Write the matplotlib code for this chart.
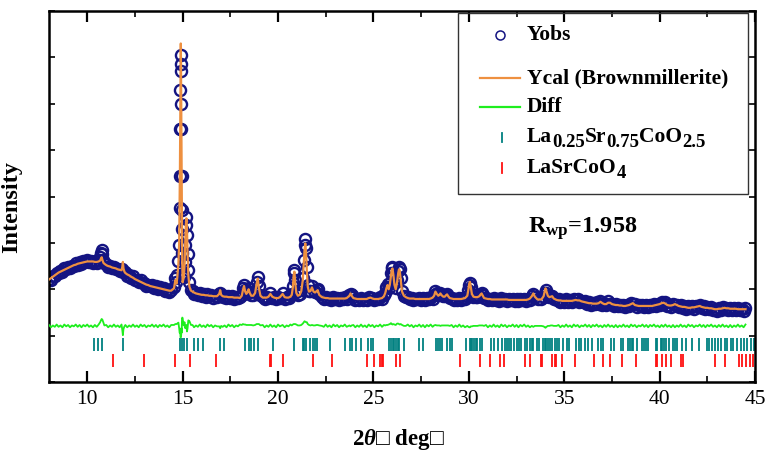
import numpy as np
import matplotlib
matplotlib.use("Agg")
import matplotlib.pyplot as plt
from matplotlib.patches import Rectangle
from matplotlib.ticker import MultipleLocator
from matplotlib.transforms import offset_copy

plt.rcParams['font.family'] = ['Liberation Serif', 'DejaVu Sans']
plt.rcParams['mathtext.fontset'] = 'custom'
plt.rcParams['mathtext.rm'] = 'Liberation Serif:bold'
plt.rcParams['mathtext.bf'] = 'Liberation Serif:bold'
plt.rcParams['mathtext.it'] = 'Liberation Serif:italic:bold'

# 2theta (deg), observed and calculated intensity (arb. units)
two_theta = [
    8.0, 8.1, 8.2, 8.3, 8.4, 8.5, 8.6, 8.7, 8.8, 8.9, 9.0, 9.1, 9.2, 9.3, 9.4, 9.5,
    9.6, 9.7, 9.8, 9.9, 10.0, 10.1, 10.2, 10.3, 10.4, 10.5, 10.6,
    10.68, 10.72, 10.76, 10.80, 10.85, 10.90,
    11.0, 11.1, 11.2, 11.3, 11.4, 11.5, 11.6, 11.7, 11.8,
    11.84, 11.87, 11.90, 11.95,
    12.0, 12.1, 12.2, 12.3, 12.4, 12.5, 12.6, 12.7, 12.8, 12.9, 13.0, 13.1, 13.2,
    13.3, 13.4, 13.5, 13.6, 13.7, 13.8, 13.9, 14.0, 14.1, 14.2, 14.3, 14.4,
    14.55, 14.62, 14.68,
    14.72, 14.78, 14.82, 14.845, 14.86, 14.875, 14.885, 14.895, 14.905, 14.915,
    14.925, 14.935, 14.945, 14.955, 14.965, 14.98, 15.0, 15.03,
    15.06, 15.1, 15.14, 15.17, 15.2, 15.23, 15.26, 15.3, 15.36, 15.44,
    15.52, 15.6, 15.7, 15.8, 15.9, 16.0, 16.1, 16.2, 16.3, 16.4, 16.5, 16.6, 16.7, 16.8,
    16.92, 16.97, 17.02,
    17.1, 17.2, 17.3, 17.4, 17.5, 17.6, 17.7, 17.8, 17.9, 18.0,
    18.1, 18.16, 18.22, 18.28, 18.34, 18.4, 18.46, 18.52, 18.6, 18.7, 18.8, 18.88,
    18.94, 19.0, 19.08,
    19.2, 19.3, 19.4, 19.5, 19.6, 19.7, 19.8, 19.9, 20.0, 20.1, 20.24, 20.35, 20.45,
    20.55, 20.65,
    20.72, 20.78, 20.82, 20.86, 20.9, 20.96, 21.04,
    21.14, 21.22, 21.3, 21.35, 21.39, 21.43, 21.47, 21.51, 21.56, 21.62,
    21.7, 21.78, 21.86, 21.94, 22.02, 22.08, 22.16, 22.3,
    22.4, 22.5, 22.6, 22.7, 22.8, 22.9, 23.0, 23.1, 23.2, 23.3, 23.4, 23.5, 23.6,
    23.74, 23.8, 23.86,
    23.95, 24.05, 24.15, 24.25, 24.35, 24.45, 24.55, 24.65, 24.75, 24.85, 24.95,
    25.05, 25.15, 25.25, 25.35, 25.45, 25.55,
    25.62, 25.68, 25.74, 25.8, 25.86, 25.92, 25.96, 26.0, 26.05, 26.1, 26.17, 26.24,
    26.3, 26.34, 26.38, 26.43, 26.5, 26.6, 26.7,
    26.8, 26.9, 27.0, 27.1, 27.2, 27.3, 27.4, 27.5, 27.6, 27.7, 27.8, 27.9, 28.0, 28.1,
    28.18, 28.25, 28.32, 28.4, 28.46, 28.51, 28.58, 28.66, 28.74, 28.8, 28.86, 28.92, 29.0,
    29.1, 29.2, 29.3, 29.4, 29.5, 29.6, 29.7, 29.8,
    29.92, 29.98, 30.02, 30.06, 30.1, 30.16, 30.24, 30.35, 30.45, 30.55, 30.62, 30.67,
    30.72, 30.8,
    30.9, 31.0, 31.1, 31.2, 31.3, 31.4, 31.5, 31.6, 31.7, 31.8, 31.9, 32.0, 32.1, 32.2,
    32.3, 32.4, 32.5, 32.6, 32.7, 32.8, 32.9, 33.0, 33.1, 33.2,
    33.3, 33.38, 33.46, 33.6,
    33.8, 33.92, 33.98, 34.02, 34.07, 34.14, 34.22, 34.3, 34.37, 34.45, 34.6,
    34.7, 34.8, 34.9,
    35.0, 35.1, 35.2, 35.3, 35.4, 35.5, 35.6, 35.7, 35.8, 35.9,
    36.0, 36.1, 36.2, 36.3, 36.4, 36.5, 36.6, 36.7, 36.8, 36.9,
    37.0, 37.1, 37.2, 37.3, 37.4, 37.5, 37.6, 37.7, 37.8, 37.9,
    38.0, 38.1, 38.2, 38.3, 38.4, 38.5, 38.6, 38.7, 38.8, 38.9,
    39.0, 39.1, 39.2, 39.3, 39.4, 39.5, 39.6, 39.7, 39.8, 39.9,
    40.0, 40.1, 40.2, 40.3, 40.4, 40.5, 40.6, 40.7, 40.8, 40.9,
    41.0, 41.1, 41.2, 41.3, 41.4, 41.5, 41.6, 41.7, 41.8, 41.9,
    42.0, 42.1, 42.2, 42.3, 42.4, 42.5, 42.6, 42.7, 42.8, 42.9,
    43.0, 43.1, 43.2, 43.3, 43.4, 43.5, 43.6, 43.7, 43.8, 43.9,
    44.0, 44.1, 44.2, 44.3, 44.4, 44.5,
]

y_obs = [
    2.23, 2.21, 2.28, 2.28, 2.36, 2.34, 2.39, 2.37, 2.45, 2.43, 2.48, 2.45, 2.51, 2.51, 2.56, 2.53,
    2.58, 2.54, 2.60, 2.58, 2.63, 2.58, 2.61, 2.57, 2.61, 2.57, 2.63,
    2.70, 2.78, 2.84, 2.76, 2.64, 2.56,
    2.54, 2.47, 2.50, 2.45, 2.49, 2.43, 2.44, 2.39, 2.44,
    2.39, 2.39, 2.38, 2.37,
    2.37, 2.29, 2.31, 2.25, 2.28, 2.20, 2.21, 2.15, 2.19, 2.13, 2.14, 2.07, 2.10,
    2.06, 2.09, 2.03, 2.06, 2.00, 2.04, 2.00, 2.03, 1.97, 1.99, 1.94, 1.99,
    2.04, 2.24, 2.16,
    2.30, 2.62, 2.95, 3.75, 4.45, 5.45, 6.30, 6.85, 7.05, 6.70,
    6.00, 5.45, 4.45, 3.70, 3.30, 2.78, 2.32, 2.28,
    2.26, 2.58, 2.95, 3.38, 3.55, 3.18, 2.75, 2.42, 2.15, 1.99,
    1.97, 1.90, 1.92, 1.88, 1.92, 1.86, 1.89, 1.84, 1.90, 1.85, 1.88, 1.82, 1.86, 1.84,
    1.89, 1.93, 1.88,
    1.83, 1.85, 1.81, 1.86, 1.82, 1.85, 1.79, 1.83, 1.81, 1.84,
    1.88, 2.02, 2.10, 1.98, 1.92, 1.96, 2.02, 1.94, 1.88, 1.87, 1.94, 2.16,
    2.27, 2.06, 1.87,
    1.84, 1.79, 1.83, 1.82, 1.93, 1.82, 1.83, 1.78, 1.84, 1.82, 1.92, 1.80, 1.83,
    1.81, 1.87,
    1.89, 2.08, 2.34, 2.42, 2.19, 1.95, 1.87,
    1.89, 1.98, 2.25, 2.63, 2.95, 3.08, 2.88, 2.48, 2.09, 1.97,
    1.97, 2.06, 1.96, 1.94, 1.98, 2.00, 1.89, 1.83,
    1.80, 1.84, 1.79, 1.81, 1.77, 1.83, 1.79, 1.82, 1.77, 1.81, 1.79, 1.83, 1.79,
    1.87, 1.90, 1.87,
    1.83, 1.77, 1.80, 1.77, 1.82, 1.77, 1.80, 1.76, 1.84, 1.81, 1.82,
    1.76, 1.80, 1.78, 1.83, 1.79, 1.87,
    1.93, 2.04, 2.11, 2.03, 2.14, 2.36, 2.46, 2.48, 2.34, 2.13, 2.02, 2.20,
    2.40, 2.47, 2.43, 2.24, 1.97, 1.86, 1.83,
    1.84, 1.79, 1.82, 1.77, 1.80, 1.78, 1.82, 1.77, 1.81, 1.76, 1.81, 1.78, 1.83, 1.80,
    1.87, 1.97, 1.91, 1.87, 1.89, 1.91, 1.88, 1.85, 1.85, 1.88, 1.90, 1.86, 1.81,
    1.82, 1.76, 1.80, 1.77, 1.82, 1.77, 1.81, 1.78,
    1.86, 1.98, 2.09, 2.13, 2.04, 1.89, 1.84, 1.83, 1.83, 1.86, 1.90, 1.92,
    1.88, 1.81,
    1.82, 1.76, 1.80, 1.76, 1.81, 1.76, 1.79, 1.75, 1.81, 1.77, 1.80, 1.75, 1.78, 1.76,
    1.80, 1.75, 1.79, 1.74, 1.79, 1.76, 1.80, 1.75, 1.79, 1.77,
    1.85, 1.89, 1.84, 1.78,
    1.78, 1.84, 1.93, 1.98, 1.93, 1.86, 1.83, 1.85, 1.86, 1.80, 1.77,
    1.78, 1.73, 1.76,
    1.73, 1.78, 1.73, 1.76, 1.72, 1.79, 1.76, 1.78, 1.73, 1.75,
    1.72, 1.75, 1.69, 1.72, 1.67, 1.71, 1.68, 1.72, 1.68, 1.74,
    1.67, 1.70, 1.66, 1.74, 1.69, 1.69, 1.64, 1.68, 1.63, 1.66,
    1.63, 1.67, 1.62, 1.66, 1.63, 1.71, 1.69, 1.68, 1.62, 1.65,
    1.63, 1.67, 1.62, 1.66, 1.61, 1.66, 1.63, 1.68, 1.64, 1.68,
    1.65, 1.72, 1.69, 1.72, 1.64, 1.66, 1.62, 1.68, 1.65, 1.67,
    1.62, 1.66, 1.60, 1.63, 1.58, 1.63, 1.59, 1.63, 1.58, 1.63,
    1.62, 1.67, 1.60, 1.63, 1.57, 1.62, 1.58, 1.62, 1.56, 1.58,
    1.54, 1.60, 1.56, 1.62, 1.58, 1.60, 1.56, 1.60, 1.55, 1.59,
    1.56, 1.60, 1.55, 1.58, 1.54, 1.60,
]

y_calc = [
    2.21, 2.24, 2.27, 2.30, 2.33, 2.36, 2.38, 2.40, 2.42, 2.44, 2.46, 2.48, 2.50, 2.52, 2.53, 2.55,
    2.56, 2.57, 2.58, 2.59, 2.60, 2.60, 2.60, 2.60, 2.59, 2.59, 2.60,
    2.62, 2.66, 2.69, 2.63, 2.57, 2.55,
    2.52, 2.50, 2.49, 2.47, 2.46, 2.45, 2.43, 2.42, 2.41,
    2.48, 2.59, 2.45, 2.38,
    2.35, 2.32, 2.30, 2.27, 2.25, 2.22, 2.20, 2.18, 2.16, 2.14, 2.12, 2.10, 2.09,
    2.07, 2.06, 2.05, 2.04, 2.03, 2.02, 2.01, 2.00, 1.99, 1.98, 1.97, 1.97,
    2.02, 2.20, 2.12,
    2.25, 2.55, 3.00, 3.90, 4.60, 5.60, 6.50, 7.10, 7.30, 6.90,
    6.20, 5.50, 4.60, 3.80, 3.20, 2.60, 2.15, 2.20,
    2.25, 2.50, 3.00, 3.40, 3.53, 3.30, 2.80, 2.30, 2.05, 1.97,
    1.95, 1.93, 1.91, 1.90, 1.89, 1.88, 1.88, 1.87, 1.87, 1.86, 1.86, 1.85, 1.85, 1.85,
    1.90, 1.98, 1.88,
    1.85, 1.84, 1.84, 1.83, 1.83, 1.83, 1.82, 1.82, 1.82, 1.81,
    1.86, 1.98, 2.07, 1.95, 1.90, 1.94, 2.00, 1.92, 1.86, 1.86, 1.92, 2.12,
    2.23, 2.02, 1.86,
    1.82, 1.82, 1.82, 1.84, 1.90, 1.84, 1.82, 1.81, 1.81, 1.83, 1.90, 1.83, 1.82,
    1.82, 1.84,
    1.88, 2.05, 2.30, 2.38, 2.15, 1.92, 1.86,
    1.88, 1.96, 2.20, 2.55, 2.85, 2.99, 2.80, 2.40, 2.05, 1.95,
    1.96, 2.04, 1.95, 1.93, 1.96, 1.98, 1.88, 1.83,
    1.82, 1.81, 1.81, 1.80, 1.80, 1.80, 1.80, 1.80, 1.80, 1.80, 1.80, 1.80, 1.81,
    1.86, 1.91, 1.86,
    1.81, 1.80, 1.79, 1.79, 1.79, 1.79, 1.79, 1.79, 1.81, 1.82, 1.80,
    1.79, 1.79, 1.79, 1.80, 1.81, 1.85,
    1.92, 2.02, 2.09, 2.00, 2.10, 2.30, 2.42, 2.45, 2.30, 2.10, 2.00, 2.15,
    2.35, 2.43, 2.40, 2.20, 1.95, 1.86, 1.83,
    1.81, 1.80, 1.80, 1.80, 1.79, 1.79, 1.79, 1.79, 1.79, 1.79, 1.79, 1.79, 1.80, 1.82,
    1.86, 1.95, 1.90, 1.86, 1.88, 1.91, 1.87, 1.84, 1.84, 1.87, 1.89, 1.85, 1.81,
    1.80, 1.79, 1.79, 1.79, 1.79, 1.79, 1.80, 1.81,
    1.86, 2.00, 2.12, 2.16, 2.05, 1.90, 1.84, 1.83, 1.83, 1.85, 1.89, 1.91,
    1.87, 1.81,
    1.80, 1.79, 1.79, 1.78, 1.78, 1.78, 1.78, 1.78, 1.78, 1.78, 1.78, 1.78, 1.77, 1.77,
    1.77, 1.77, 1.77, 1.77, 1.77, 1.77, 1.77, 1.77, 1.78, 1.80,
    1.85, 1.91, 1.84, 1.78,
    1.78, 1.85, 1.96, 2.02, 1.95, 1.86, 1.83, 1.84, 1.85, 1.80, 1.77,
    1.76, 1.76, 1.75,
    1.75, 1.75, 1.75, 1.75, 1.75, 1.76, 1.77, 1.76, 1.76, 1.74,
    1.73, 1.72, 1.71, 1.70, 1.70, 1.69, 1.69, 1.69, 1.70, 1.73,
    1.70, 1.68, 1.68, 1.71, 1.71, 1.68, 1.67, 1.66, 1.66, 1.65,
    1.65, 1.64, 1.64, 1.65, 1.66, 1.68, 1.70, 1.66, 1.65, 1.64,
    1.64, 1.64, 1.64, 1.64, 1.64, 1.64, 1.64, 1.65, 1.66, 1.67,
    1.68, 1.70, 1.71, 1.69, 1.66, 1.65, 1.65, 1.66, 1.68, 1.66,
    1.64, 1.63, 1.62, 1.62, 1.61, 1.60, 1.60, 1.61, 1.61, 1.62,
    1.63, 1.64, 1.62, 1.61, 1.60, 1.60, 1.59, 1.59, 1.58, 1.57,
    1.57, 1.58, 1.58, 1.59, 1.60, 1.59, 1.59, 1.58, 1.58, 1.58,
    1.58, 1.57, 1.57, 1.57, 1.57, 1.57,
]

diff_offset = 1.21

# Bragg reflection positions (deg)
brownmillerite_hkl = [
    10.38, 10.55, 10.76, 11.87, 14.87, 14.96, 15.05, 15.22, 15.6, 15.83, 16.06,
    16.97, 17.18, 18.25, 18.46, 18.58, 18.72, 18.95, 19.74, 20.85, 21.29, 21.38,
    21.47, 21.69, 21.84, 21.96, 22.04, 22.7, 23.5, 23.79, 23.88, 24.1, 24.37,
    24.72, 24.88, 24.98, 25.8, 25.93, 26.03, 26.1, 26.19, 26.27, 26.36, 26.62,
    27.38, 27.6, 28.3, 28.39, 28.51, 28.6, 28.86, 29.0, 29.13, 29.83, 30.04,
    30.12, 30.18, 30.26, 30.35, 30.44, 30.56, 30.7, 31.17, 31.31, 31.52, 31.75,
    31.87, 31.98, 32.1, 32.22, 32.36, 32.5, 32.62, 32.75, 32.97, 33.06, 33.2,
    33.29, 33.38, 33.55, 33.67, 33.9, 33.97, 34.06, 34.15, 34.23, 34.37, 34.5,
    34.63, 34.72, 34.95, 35.12, 35.25, 35.6, 35.77, 35.86, 36.09, 36.26, 36.44,
    36.79, 36.91, 37.03, 37.43, 37.61, 37.96, 38.08, 38.36, 38.45, 38.54, 38.61,
    38.83, 39.06, 39.18, 39.3, 39.41, 39.79, 39.88, 40.06, 40.14, 40.23, 40.32,
    40.49, 40.7, 40.81, 40.93, 41.19, 41.37, 41.72, 42.07, 42.47, 42.59, 42.77,
    42.91, 43.08, 43.2, 43.43, 43.55, 43.73, 43.85, 44.08, 44.25, 44.43, 44.6,
    44.78, 44.95,
]
lasrcoo4_hkl = [
    11.34, 13.0, 14.61, 15.4, 16.74, 19.56, 19.65, 20.24, 21.84, 22.83, 24.67,
    25.02, 25.37, 25.45, 25.5, 26.19, 26.38, 29.53, 30.56, 31.1, 31.61, 31.84,
    32.94, 33.2, 33.76, 33.85, 34.37, 34.5, 34.57, 34.9, 35.54, 36.56, 37.03,
    37.38, 38.05, 38.75, 39.79, 39.88, 40.11, 40.32, 40.58, 41.11, 41.23, 42.91,
    43.43, 44.17, 44.34, 44.55, 44.73, 44.9,
]

# legend entries; formulas as (text, is_subscript) pieces
legend_labels = [
    [('Yobs', False)],
    [('Ycal (Brownmillerite)', False)],
    [('Diff', False)],
    [('La', False), ('0.25', True), ('Sr', False), ('0.75', True), ('CoO', False), ('2.5', True)],
    [('LaSrCoO', False), ('4', True)],
]
r_wp = 1.958

navy = '#141482'
orange = '#ee9040'
green = '#1eee1e'
teal = '#008080'
red = '#ff1010'

assert len(two_theta) == len(y_obs) == len(y_calc)
tt = np.array(two_theta)
yo = np.array(y_obs)
yc = np.array(y_calc)
ydiff = yo - yc + diff_offset

fig = plt.figure(figsize=(7.71, 4.55), dpi=100)
ax = fig.add_axes([0.0636, 0.1604, 0.9157, 0.8154])

ax.plot(tt, yo, 'o', mfc='none', mec=navy, ms=8.0, mew=1.7, zorder=2)
ax.plot(tt, yc, '-', color=orange, lw=1.6, zorder=3)
ax.plot(tt, ydiff, '-', color=green, lw=1.3, zorder=3)
ax.vlines(brownmillerite_hkl, 0.67, 0.95, color=teal, lw=1.3)
ax.vlines(lasrcoo4_hkl, 0.32, 0.60, color=red, lw=1.3)

ax.set_xlim(8, 45)
ax.set_ylim(0, 8)
ax.xaxis.set_major_locator(MultipleLocator(5))
ax.xaxis.set_minor_locator(MultipleLocator(2.5))
ax.yaxis.set_major_locator(MultipleLocator(1))
ax.tick_params(axis='both', which='both', direction='in', top=True, right=True)
ax.tick_params(axis='x', which='major', length=8, width=1.6, labelsize=15.5, pad=6)
ax.tick_params(axis='x', which='minor', length=4, width=1.2)
ax.tick_params(axis='y', which='major', length=4, width=1.2, labelleft=False)
for sp in ax.spines.values():
    sp.set_linewidth(1.8)

ax.set_xlabel(r'2$\theta$□ deg□', fontsize=16.5, fontweight='bold')
ax.xaxis.set_label_coords(0.495, -0.12)
ax.set_ylabel('Intensity', fontsize=17.5, fontweight='bold')
ax.yaxis.set_label_coords(-0.038, 0.472)

# hand-placed legend box
T = ax.transAxes
renderer = fig.canvas.get_renderer()


def piece_text(x, y, pieces, size=15.5, sub_size=13.5, sub_drop=3.5):
    dx = 0.0
    for s, is_sub in pieces:
        tr = offset_copy(T, fig=fig, x=dx, y=-sub_drop if is_sub else 0.0, units='points')
        t = ax.text(x, y, s, transform=tr, fontsize=sub_size if is_sub else size,
                    fontweight='bold', va='baseline', ha='left', zorder=6)
        dx += t.get_window_extent(renderer).width * 72.0 / fig.dpi


ax.add_patch(Rectangle((0.579, 0.507), 0.411, 0.488, transform=T, fill=False,
                       ec='#333333', lw=1.0, zorder=5))
rows = [0.935, 0.819, 0.741, 0.660, 0.577]
ax.plot([0.639], [rows[0]], 'o', mfc='none', mec=navy, ms=6.5, mew=1.1, transform=T, zorder=6)
ax.plot([0.610, 0.667], [rows[1]] * 2, color=orange, lw=1.6, transform=T, zorder=6)
ax.plot([0.610, 0.667], [rows[2]] * 2, color=green, lw=1.6, transform=T, zorder=6)
ax.plot([0.642, 0.642], [rows[3] - 0.012, rows[3] + 0.012], color=teal, lw=1.3, transform=T, zorder=6)
ax.plot([0.642, 0.642], [rows[4] - 0.014, rows[4] + 0.014], color=red, lw=1.3, transform=T, zorder=6)
for y, pieces in zip(rows, legend_labels):
    piece_text(0.677, y - 0.013, pieces)

ax.text(0.678, 0.402, r'R$_{\mathrm{wp}}$=' + f'{r_wp:.3f}', transform=T, fontsize=17.5,
        fontweight='bold', va='baseline', ha='left')

fig.savefig('out.png', dpi=100)
